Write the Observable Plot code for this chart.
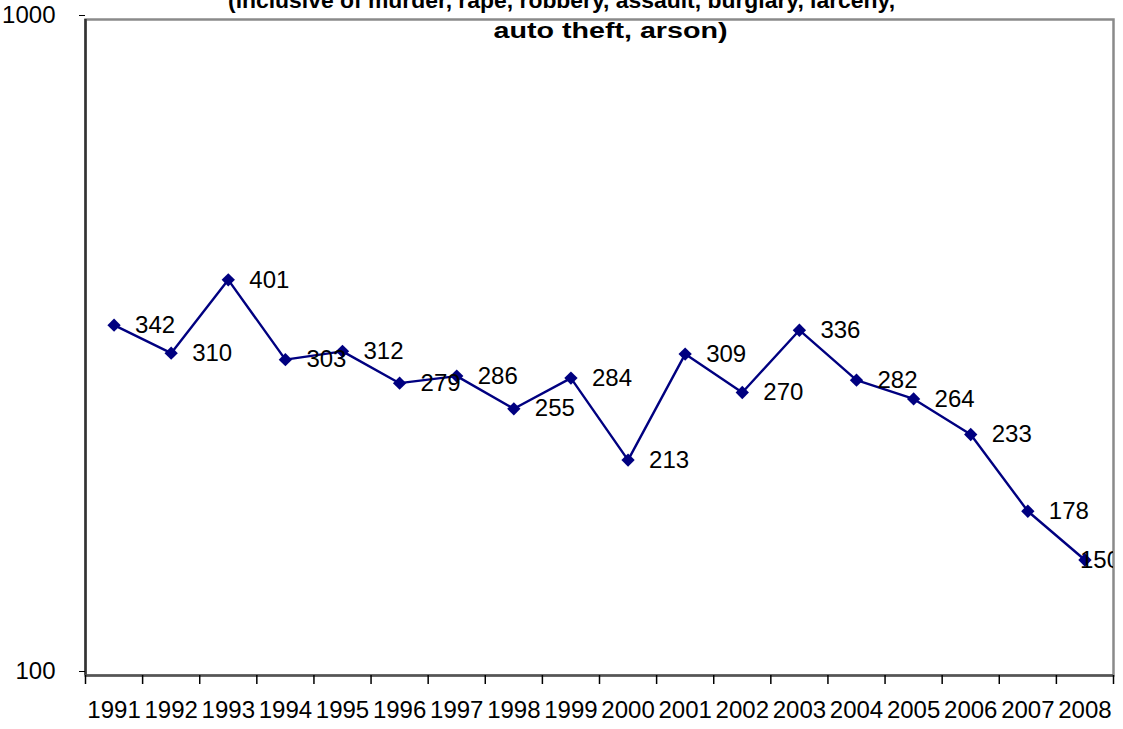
<!DOCTYPE html>
<html>
<head>
<meta charset="utf-8">
<script src="https://cdn.jsdelivr.net/npm/d3@7"></script>
<script src="https://cdn.jsdelivr.net/npm/@observablehq/plot@0.6"></script>
<style>
  html, body { margin: 0; padding: 0; background: #fff; }
  #chart svg { display: block; }
</style>
</head>
<body>
<div id="chart"></div>
<script>
const years = [1991,1992,1993,1994,1995,1996,1997,1998,1999,2000,2001,2002,2003,2004,2005,2006,2007,2008];
const values = [342,310,401,303,312,279,286,255,284,213,309,270,336,282,264,233,178,150];
const yTicks = [100, 1000];
const titleLines = [
  "(inclusive of murder, rape, robbery, assault, burglary, larceny,",
  "auto theft, arson)"
];

const data = years.map((y, i) => ({year: y, value: values[i]}));
const boundaries = [years[0] - 0.5, ...years.map(y => y + 0.5)];
const font = "'Liberation Sans', Arial, sans-serif";
const navy = "#000080";

const chart = Plot.plot({
  width: 1123,
  height: 729,
  marginLeft: 85,
  marginRight: 10,
  marginTop: 19,
  marginBottom: 54,
  style: {fontFamily: font, background: "#fff", color: "#000"},
  x: {type: "linear", domain: [boundaries[0], boundaries[boundaries.length - 1]]},
  y: {type: "log", domain: [100, 1000]},
  marks: [
    Plot.frame({stroke: "#8a8a8a", strokeWidth: 2.5}),
    Plot.ruleX([boundaries[0]], {stroke: "#333", strokeWidth: 2.5}),
    Plot.ruleY([100], {stroke: "#555", strokeWidth: 2.5}),
    Plot.axisY(yTicks, {tickSize: 6, tickPadding: 24, dy: -4, fontSize: 24, tickFormat: d => String(d), stroke: "#000", label: null}),
    Plot.axisX(boundaries, {tickSize: 9, tickFormat: () => "", stroke: "#000", strokeWidth: 1.5, label: null}),
    Plot.axisX(years, {tickSize: 0, tickPadding: 25, fontSize: 24, tickFormat: d => String(d), label: null}),
    Plot.line(data, {x: "year", y: "value", stroke: navy, strokeWidth: 2.4}),
    Plot.dot(data, {x: "year", y: "value", symbol: "diamond2", r: 6, fill: navy, stroke: "none"}),
    Plot.text(data.slice(0, -1), {x: "year", y: "value", text: d => String(d.value), dx: 21, textAnchor: "start", fontSize: 24, fill: "#000"}),
    Plot.text(data.slice(-1), {x: "year", y: "value", text: d => String(d.value), dx: -5, textAnchor: "start", fontSize: 24, fill: "#000", clip: "frame"}),
    Plot.text([titleLines[0]], {className: "title1", frameAnchor: "top", dx: -38, dy: -12, lineAnchor: "bottom", fontSize: 22, fontWeight: "bold", fill: "#000"}),
    Plot.text([titleLines[1]], {className: "title2", frameAnchor: "top", dx: 11, dy: 18, lineAnchor: "bottom", fontSize: 22, fontWeight: "bold", fill: "#000"})
  ]
});
d3.select(chart).selectAll(".title1 text").attr("textLength", 667).attr("lengthAdjust", "spacingAndGlyphs");
d3.select(chart).selectAll(".title2 text").attr("textLength", 234).attr("lengthAdjust", "spacingAndGlyphs");
document.getElementById("chart").appendChild(chart);
</script>
</body>
</html>
